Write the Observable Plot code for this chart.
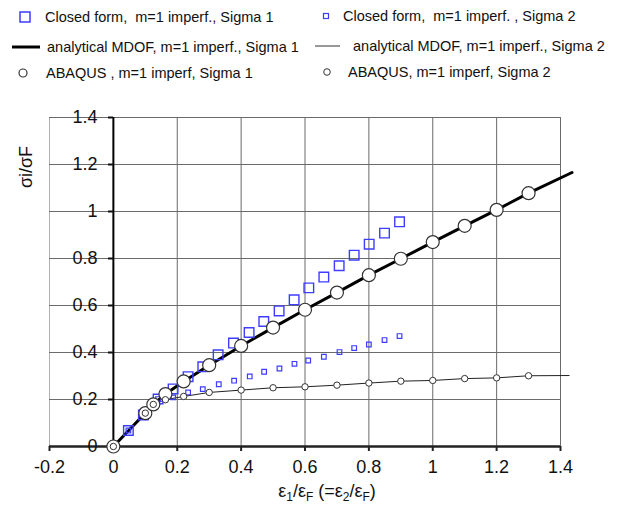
<!DOCTYPE html>
<html><head><meta charset="utf-8">
<script src="https://cdn.jsdelivr.net/npm/d3@7"></script>
<script src="https://cdn.jsdelivr.net/npm/@observablehq/plot@0.6"></script>
<style>
body{margin:0;background:#fff;font-family:"Liberation Sans",Arial,sans-serif;}
#wrap{position:relative;width:619px;height:506px;overflow:hidden;}
#legend{position:absolute;left:0;top:0;}
#chart{position:absolute;left:0;top:96px;}
</style></head><body>
<div id="wrap"><svg id="legend" width="619" height="96"></svg><div id="chart"></div></div>
<script>
// axis ticks
const xTicks = [-0.2, 0, 0.2, 0.4, 0.6, 0.8, 1, 1.2, 1.4];
const xTickLabels = ["-0.2", "0", "0.2", "0.4", "0.6", "0.8", "1", "1.2", "1.4"];
const yTicks = [0, 0.2, 0.4, 0.6, 0.8, 1, 1.2, 1.4];
const yTickLabels = ["0", "0.2", "0.4", "0.6", "0.8", "1", "1.2", "1.4"];

// Closed form, Sigma 1 (large squares)
const closedS1X = [0.047, 0.094, 0.14, 0.187, 0.234, 0.28, 0.328, 0.376, 0.425, 0.471, 0.519, 0.566, 0.612, 0.659, 0.707, 0.754, 0.801, 0.849, 0.896];
const closedS1Y = [0.068, 0.134, 0.202, 0.245, 0.297, 0.339, 0.390, 0.440, 0.485, 0.532, 0.577, 0.624, 0.675, 0.721, 0.769, 0.814, 0.861, 0.908, 0.956];
// Closed form, Sigma 2 (small squares)
const closedS2X = [0.047, 0.094, 0.14, 0.187, 0.234, 0.28, 0.33, 0.378, 0.427, 0.472, 0.52, 0.567, 0.61, 0.659, 0.708, 0.754, 0.80, 0.849, 0.896];
const closedS2Y = [0.068, 0.134, 0.202, 0.209, 0.230, 0.244, 0.265, 0.280, 0.298, 0.318, 0.332, 0.352, 0.366, 0.382, 0.402, 0.419, 0.434, 0.453, 0.470];
// analytical MDOF, Sigma 1 (thick line)
const mdofS1X = [0, 0.05, 0.1, 0.125, 0.163, 0.22, 0.3, 0.4, 0.5, 0.6, 0.7, 0.8, 0.9, 1.0, 1.1, 1.2, 1.3, 1.436];
const mdofS1Y = [0, 0.071, 0.142, 0.179, 0.223, 0.277, 0.346, 0.428, 0.506, 0.582, 0.655, 0.729, 0.799, 0.870, 0.939, 1.007, 1.078, 1.166];
// analytical MDOF, Sigma 2 (thin line)
const mdofS2X = [0, 0.1, 0.125, 0.163, 0.22, 0.3, 0.4, 0.5, 0.6, 0.7, 0.8, 0.9, 1.0, 1.1, 1.2, 1.3, 1.427];
const mdofS2Y = [0, 0.142, 0.179, 0.199, 0.213, 0.230, 0.240, 0.250, 0.254, 0.261, 0.270, 0.278, 0.281, 0.289, 0.292, 0.301, 0.302];
// ABAQUS, Sigma 1 (large circles)
const abaqusS1X = [0, 0.1, 0.125, 0.163, 0.22, 0.3, 0.4, 0.5, 0.6, 0.7, 0.8, 0.9, 1.0, 1.1, 1.2, 1.3];
const abaqusS1Y = [0, 0.142, 0.179, 0.223, 0.277, 0.346, 0.428, 0.506, 0.582, 0.655, 0.729, 0.799, 0.870, 0.939, 1.007, 1.078];
// ABAQUS, Sigma 2 (small circles)
const abaqusS2X = [0, 0.1, 0.125, 0.163, 0.22, 0.3, 0.4, 0.5, 0.6, 0.7, 0.8, 0.9, 1.0, 1.1, 1.2, 1.3];
const abaqusS2Y = [0, 0.142, 0.179, 0.199, 0.213, 0.230, 0.240, 0.250, 0.254, 0.261, 0.270, 0.278, 0.281, 0.289, 0.292, 0.301];

const legendLabels = [
  "Closed form,  m=1 imperf., Sigma 1", "Closed form,  m=1 imperf. , Sigma 2",
  "analytical MDOF, m=1 imperf., Sigma 1", "analytical MDOF, m=1 imperf., Sigma 2",
  "ABAQUS , m=1 imperf, Sigma 1", "ABAQUS, m=1 imperf, Sigma 2"
];
const yLabel = "σi/σF";

const zip = (xs, ys) => xs.map((x, i) => ({x, y: ys[i]}));
const closedS1 = zip(closedS1X, closedS1Y);
const closedS2 = zip(closedS2X, closedS2Y);
const mdofS1 = zip(mdofS1X, mdofS1Y);
const mdofS2 = zip(mdofS2X, mdofS2Y);
const abaqusS1 = zip(abaqusS1X, abaqusS1Y);
const abaqusS2 = zip(abaqusS2X, abaqusS2Y);

const fmt = (ticks, labels) => d => labels[ticks.findIndex(t => Math.abs(t - d) < 1e-9)];
const BLUE = "#3d3dff";
const FONT = "'Liberation Sans', Arial, sans-serif";

const chart = Plot.plot({
  width: 619, height: 410,
  marginLeft: 49, marginRight: 59, marginTop: 21, marginBottom: 60,
  x: {domain: [-0.2, 1.4]},
  y: {domain: [0, 1.4]},
  style: {fontFamily: FONT, fontSize: "18px", color: "#111", background: "#fff"},
  marks: [
    Plot.ruleX([-0.2], {stroke: "#b0b0b0", strokeWidth: 1}),
    Plot.gridX({ticks: xTicks.filter(d => d > 0), stroke: "#6a6a6a", strokeOpacity: 1}),
    Plot.gridY({ticks: yTicks.filter(d => d > 0), stroke: "#6a6a6a", strokeOpacity: 1}),
    Plot.ruleY([0], {stroke: "#222", strokeWidth: 2.5}),
    Plot.ruleX([0], {y1: 0, y2: 1.4, stroke: "#000", strokeWidth: 2}),
    Plot.axisX({ticks: xTicks, tickFormat: fmt(xTicks, xTickLabels), tickSize: 5, tickPadding: 9,
      strokeWidth: 2, stroke: "#222", fill: "#111", fontSize: 18, label: null}),
    Plot.axisY({anchor: "left", ticks: yTicks, tickFormat: fmt(yTicks, yTickLabels), tickSize: 5, tickPadding: 11,
      dx: 64, strokeWidth: 2, stroke: "#111", fill: "#111", fontSize: 18, label: null}),
    Plot.line(mdofS2, {x: "x", y: "y", stroke: "#222", strokeWidth: 1}),
    Plot.line(mdofS1, {x: "x", y: "y", stroke: "#000", strokeWidth: 3}),
    Plot.dot(closedS1, {x: "x", y: "y", symbol: "square", r: 5.4, stroke: BLUE, strokeWidth: 1.4, fill: "none"}),
    Plot.dot(closedS2, {x: "x", y: "y", symbol: "square", r: 2.6, stroke: BLUE, strokeWidth: 1.2, fill: "none"}),
    Plot.dot(abaqusS1, {x: "x", y: "y", r: 6.5, fill: "#fff", stroke: "#333", strokeWidth: 1.2}),
    Plot.dot(abaqusS2, {x: "x", y: "y", r: 3.2, fill: "#fff", stroke: "#333", strokeWidth: 1})
  ]
});
document.getElementById("chart").appendChild(chart);

const svg = d3.select(chart);
// y-axis label
svg.append("text").attr("transform", "translate(26,71) rotate(-90)")
  .attr("text-anchor", "middle").attr("dominant-baseline", "central")
  .attr("font-size", 18).attr("fill", "#111").attr("font-family", FONT).text(yLabel);

// x-axis label with subscripts
const xl = svg.append("text").attr("x", 327).attr("y", 401).attr("text-anchor", "middle")
  .attr("font-size", 18).attr("fill", "#111").attr("font-family", FONT);
const parts = [["ε", 0], ["1", 1], ["/ε", 0], ["F", 1], [" (=ε", 0], ["2", 1], ["/ε", 0], ["F", 1], [")", 0]];
let prev = 0;
for (const [t, sub] of parts) {
  const shift = sub ? 4 : 0;
  xl.append("tspan").attr("dy", shift - prev).attr("font-size", sub ? 12 : 18).text(t);
  prev = shift;
}

// legend
const lg = d3.select("#legend");
const addText = (x, y, t) => lg.append("text").attr("x", x).attr("y", y).attr("dominant-baseline", "central")
  .attr("font-size", 14.5).attr("font-family", FONT).attr("fill", "#111").style("white-space", "pre").text(t);
lg.append("rect").attr("x", 20).attr("y", 12).attr("width", 10).attr("height", 10).attr("fill", "none").attr("stroke", BLUE).attr("stroke-width", 1.5);
addText(45, 17, legendLabels[0]);
lg.append("rect").attr("x", 323.5).attr("y", 13.5).attr("width", 5).attr("height", 5).attr("fill", "none").attr("stroke", BLUE).attr("stroke-width", 1.2);
addText(343, 16, legendLabels[1]);
lg.append("line").attr("x1", 12).attr("x2", 40).attr("y1", 47).attr("y2", 47).attr("stroke", "#000").attr("stroke-width", 3);
addText(47, 47, legendLabels[2]);
lg.append("line").attr("x1", 315).attr("x2", 340).attr("y1", 46).attr("y2", 46).attr("stroke", "#333").attr("stroke-width", 1);
addText(353, 46, legendLabels[3]);
lg.append("circle").attr("cx", 23).attr("cy", 73).attr("r", 4).attr("fill", "#fff").attr("stroke", "#333").attr("stroke-width", 1.2);
addText(46, 73, legendLabels[4]);
lg.append("circle").attr("cx", 327).attr("cy", 72).attr("r", 3.3).attr("fill", "#fff").attr("stroke", "#333").attr("stroke-width", 1);
addText(348, 72, legendLabels[5]);
</script>
</body></html>
